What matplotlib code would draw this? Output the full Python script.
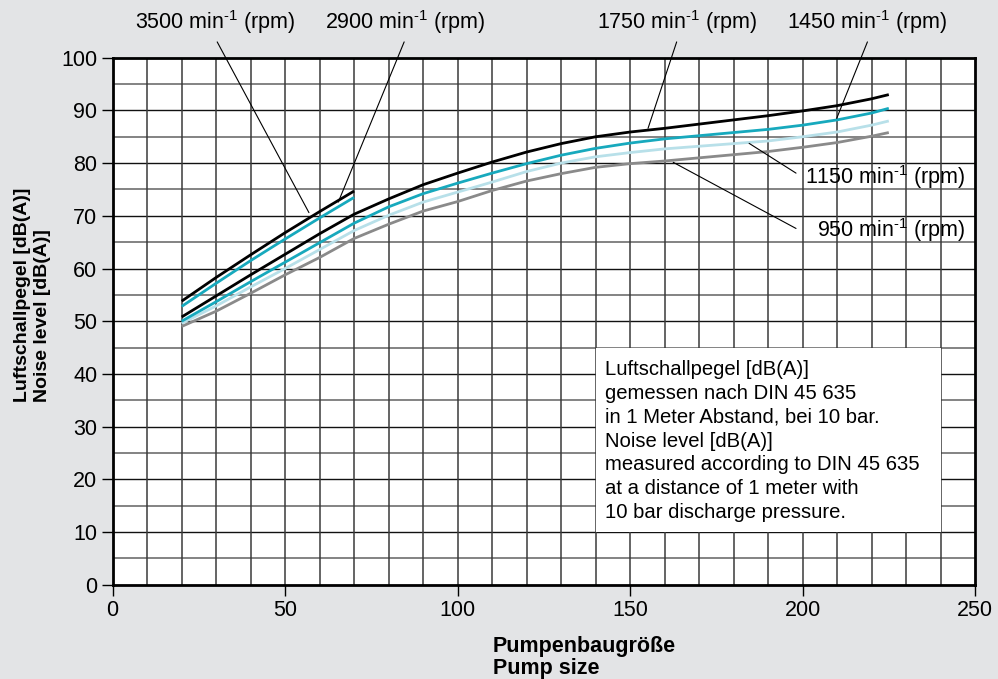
import matplotlib
matplotlib.use("Agg")
from matplotlib import pyplot as plt
from matplotlib.patches import Rectangle

plt.rcParams['font.family'] = ['Liberation Sans', 'DejaVu Sans']
plt.rcParams['mathtext.fontset'] = 'custom'
plt.rcParams['mathtext.rm'] = 'Liberation Sans'
plt.rcParams['mathtext.default'] = 'regular'

# pump size (x) and noise level in dB(A)
x_short = [20, 30, 40, 50, 60, 70]
rpm3500 = [53.8, 58.3, 62.6, 66.8, 70.8, 74.7]
rpm2900 = [52.8, 57.2, 61.5, 65.6, 69.6, 73.5]

x_long = [20, 30, 40, 50, 60, 70, 80, 90, 100, 110, 120, 130, 140, 150,
          160, 170, 180, 190, 200, 210, 220, 225]
rpm1750 = [50.8, 54.8, 58.8, 62.7, 66.6, 70.3, 73.2, 75.9, 78.1, 80.2, 82.1,
           83.7, 85.0, 85.9, 86.6, 87.4, 88.2, 89.0, 89.9, 90.9, 92.2, 93.0]
rpm1450 = [50.0, 53.7, 57.5, 61.2, 64.9, 68.6, 71.7, 74.2, 76.2, 78.1, 79.9,
           81.5, 82.8, 83.8, 84.6, 85.2, 85.8, 86.4, 87.2, 88.2, 89.5, 90.4]
rpm1150 = [49.6, 52.9, 56.5, 60.0, 63.6, 67.2, 70.1, 72.6, 74.5, 76.4, 78.4,
           80.0, 81.2, 82.0, 82.7, 83.2, 83.7, 84.2, 85.0, 85.9, 87.2, 88.0]
rpm950 = [49.0, 51.9, 55.3, 58.8, 62.1, 65.7, 68.4, 70.9, 72.7, 74.8, 76.6,
          78.0, 79.2, 79.9, 80.4, 81.0, 81.6, 82.2, 83.0, 83.9, 85.1, 85.8]

labels = ['3500', '2900', '1750', '1450', '1150', '950']
# label position, label alignment, leader start, leader end
label_pos = [(29.8, 106.8), (84.7, 106.8), (163.7, 106.8), (218.8, 106.8),
             (247.3, 77.4), (247.3, 67.3)]
label_ha = ['center', 'center', 'center', 'center', 'right', 'right']
lead_from = [(30.3, 103.0), (84.5, 103.0), (163.5, 103.0), (218.8, 103.0),
             (198.1, 78.1), (198.1, 67.6)]
lead_to = [(56.9, 70.6), (65.4, 72.6), (155.2, 86.6), (209.9, 88.5),
           (184.5, 83.75), (162.5, 80.15)]

note = ("Luftschallpegel [dB(A)]\n"
        "gemessen nach DIN 45 635\n"
        "in 1 Meter Abstand, bei 10 bar.\n"
        "Noise level [dB(A)]\n"
        "measured according to DIN 45 635\n"
        "at a distance of 1 meter with\n"
        "10 bar discharge pressure.")

black = '#000000'
cyan = '#17a9bd'
light = '#b8e0e9'
grey = '#8a8a8a'

fig = plt.figure(figsize=(9.98, 6.79), dpi=100)
fig.patch.set_facecolor('#e3e4e6')
ax = fig.add_axes([0.1129, 0.1389, 0.8641, 0.7761])
ax.set_facecolor('white')

# grid
for yv in range(5, 100, 5):
    if yv % 10 == 0:
        ax.axhline(yv, color='#111111', lw=1.0, zorder=1)
    else:
        ax.axhline(yv, color='#6e6e6e', lw=1.2, zorder=1)
for xv in range(10, 250, 10):
    ax.axvline(xv, color='#3a3a3a', lw=1.1, zorder=1)

ax.add_patch(Rectangle((140, 10), 100, 35, facecolor='white', edgecolor='none', zorder=2))
ax.text(142.8, 42.7, note, fontsize=14.6, va='top', ha='left', linespacing=1.33, zorder=3)

ax.plot(x_long, rpm950, color=grey, lw=2.0, zorder=4, solid_capstyle='butt')
ax.plot(x_long, rpm1150, color=light, lw=2.0, zorder=4, solid_capstyle='butt')
ax.plot(x_long, rpm1450, color=cyan, lw=2.0, zorder=4, solid_capstyle='butt')
ax.plot(x_long, rpm1750, color=black, lw=2.0, zorder=4, solid_capstyle='butt')
ax.plot(x_short, rpm2900, color=cyan, lw=2.0, zorder=4, solid_capstyle='butt')
ax.plot(x_short, rpm3500, color=black, lw=2.0, zorder=4, solid_capstyle='butt')

for i in range(len(labels)):
    ax.annotate('', xy=lead_to[i], xytext=lead_from[i],
                arrowprops=dict(arrowstyle='-', lw=0.8, color='black', shrinkA=0, shrinkB=0),
                annotation_clip=False, zorder=5)
    ax.text(label_pos[i][0], label_pos[i][1], labels[i] + ' min$^{\u2010' + '1}$ (rpm)',
            fontsize=15.5, ha=label_ha[i], va='center', clip_on=False, zorder=5)

ax.set_xlim(0, 250)
ax.set_ylim(0, 100)
ax.set_xticks(range(0, 251, 50))
ax.set_yticks(range(0, 101, 10))
ax.tick_params(direction='out', length=8, width=1, labelsize=15.5, pad=3)
for s in ax.spines.values():
    s.set_linewidth(2)
    s.set_color('black')
    s.set_zorder(6)

# axis titles (placed like in the original sheet)
fig.text(0.494, 0.0317, 'Pumpenbaugröße\nPump size', fontsize=15.5, fontweight='bold',
         ha='left', va='center', multialignment='left', linespacing=1.12)
fig.text(0.0326, 0.408, 'Luftschallpegel [dB(A)]\nNoise level [dB(A)]', fontsize=14,
         fontweight='bold', rotation=90, ha='center', va='bottom',
         multialignment='left', linespacing=1.24)

plt.savefig('out.png', dpi=100, facecolor=fig.get_facecolor())
